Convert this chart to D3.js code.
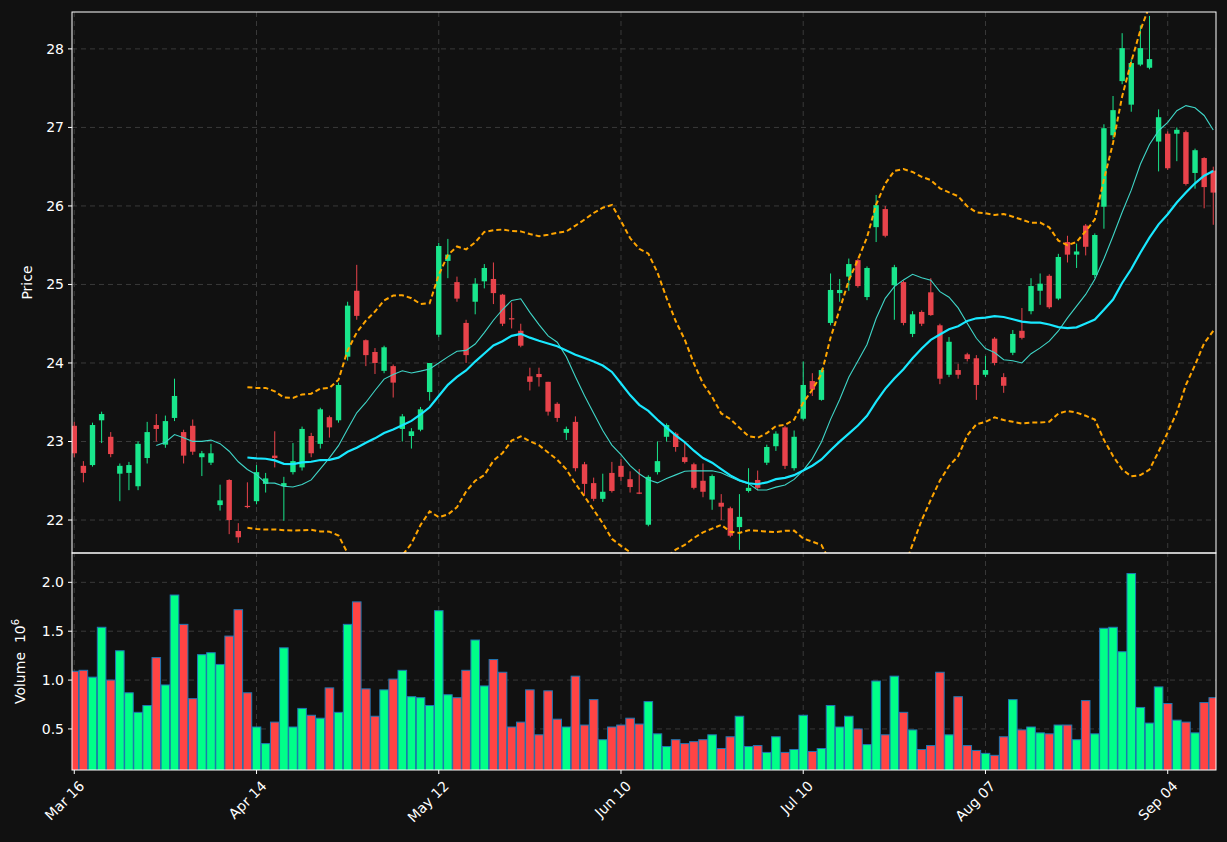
<!DOCTYPE html>
<html><head><meta charset="utf-8">
<script src="https://cdn.jsdelivr.net/npm/d3@7"></script>
<style>body{margin:0;background:#111111;}svg{display:block;}text{font-family:"DejaVu Sans",sans-serif;}</style>
</head><body><svg id="c" width="1227" height="842"></svg>
<script>
const opens=[23.20,22.69,22.70,23.27,23.06,22.59,22.60,22.43,22.79,23.21,22.96,23.30,23.12,23.20,22.80,22.73,22.19,22.51,21.86,22.18,
22.24,22.46,22.82,22.43,22.61,22.67,23.07,22.97,23.31,23.27,24.08,24.92,24.29,24.14,23.90,23.96,23.16,23.07,23.15,23.63,
24.36,25.30,25.03,24.51,24.78,25.04,25.07,24.87,24.57,24.41,23.83,23.86,23.76,23.48,23.11,23.25,22.71,22.47,22.27,22.60,
22.69,22.52,22.35,21.94,22.61,23.06,23.10,22.80,22.71,22.50,22.26,22.22,22.15,21.91,22.37,22.51,22.73,22.94,23.18,22.66,
23.29,23.77,23.53,24.51,24.89,25.10,25.31,24.84,25.73,25.96,24.99,25.03,24.37,24.65,24.90,24.48,23.85,23.91,24.11,24.06,
23.85,24.31,23.82,24.13,24.41,24.66,24.92,25.11,24.82,25.54,25.38,25.75,25.12,25.99,26.90,27.59,27.29,27.80,27.76,26.82,
26.92,26.92,26.94,26.42,26.61,26.45];
const highs=[23.25,22.75,23.24,23.38,23.12,22.72,22.74,23.00,23.25,23.35,23.33,23.80,23.15,23.28,22.88,22.97,22.45,22.52,21.96,22.48,
22.70,22.60,23.13,22.55,22.98,23.19,23.11,23.43,23.33,23.75,24.78,25.25,24.30,24.19,24.22,23.98,23.35,23.17,23.44,24.00,
25.53,25.58,25.10,24.55,25.08,25.26,25.28,24.88,24.77,24.50,23.94,23.94,23.76,23.50,23.19,23.32,22.74,22.54,22.59,22.74,
22.78,22.62,22.65,22.57,23.00,23.23,23.12,22.99,22.73,22.72,22.58,22.33,22.17,22.33,22.66,22.63,22.96,23.13,23.20,23.14,
24.02,23.87,23.93,25.14,25.07,25.33,25.33,25.23,26.14,26.00,25.25,25.05,24.66,24.67,25.08,24.50,24.33,23.99,24.13,24.10,
24.09,24.33,23.87,24.42,24.70,25.08,25.14,25.13,25.39,25.62,25.52,25.77,25.65,27.04,27.40,28.20,27.87,28.30,28.42,27.23,
26.95,27.00,26.96,26.73,26.62,26.50];
const lows=[22.80,22.48,22.68,22.98,22.80,22.24,22.38,22.38,22.72,23.00,22.92,23.26,22.72,22.83,22.56,22.70,22.12,21.82,21.71,22.15,
22.20,22.35,22.67,21.99,22.58,22.63,22.80,22.91,23.05,23.24,24.03,24.55,23.96,23.86,23.87,23.56,23.00,22.91,23.13,23.52,
24.33,25.08,24.78,24.00,24.62,24.95,24.75,24.47,24.44,24.20,23.65,23.70,23.33,23.25,23.02,22.62,22.32,22.24,22.23,22.35,
22.50,22.35,22.33,21.92,22.58,23.00,22.87,22.72,22.39,22.29,22.13,22.00,21.78,21.62,22.35,22.38,22.70,22.88,22.65,22.63,
23.27,23.58,23.52,24.48,24.78,24.92,24.96,24.80,25.54,25.60,24.55,24.48,24.33,24.47,24.60,23.73,23.82,23.80,24.02,23.53,
23.82,23.97,23.62,24.10,24.30,24.62,24.74,24.69,24.80,25.28,25.21,25.37,25.08,25.71,26.85,27.55,27.20,27.78,27.74,26.44,
26.46,26.57,26.26,26.22,25.97,25.76];
const closes=[22.85,22.60,23.21,23.35,22.84,22.69,22.70,22.97,23.12,23.16,23.26,23.58,22.82,22.87,22.85,22.85,22.25,22.00,21.78,22.17,
22.61,22.53,22.79,22.47,22.75,23.16,22.85,23.41,23.18,23.72,24.73,24.60,24.10,24.00,24.20,23.75,23.32,23.13,23.41,24.00,
25.49,25.38,24.82,24.10,25.01,25.21,24.89,24.50,24.56,24.22,23.76,23.82,23.38,23.30,23.16,22.66,22.46,22.27,22.36,22.37,
22.55,22.42,22.34,22.55,22.75,23.21,22.93,22.74,22.41,22.36,22.56,22.17,21.80,22.04,22.41,22.41,22.93,23.10,22.69,23.06,
23.72,23.66,23.91,24.93,24.93,25.26,24.98,25.21,26.01,25.62,25.22,24.51,24.62,24.50,24.61,23.80,24.27,23.85,24.05,23.72,
23.91,24.00,23.71,24.37,24.32,24.98,25.01,24.71,25.35,25.38,25.42,25.48,25.63,26.99,27.22,28.01,27.82,28.01,27.87,27.13,
26.48,26.97,26.28,26.71,26.24,26.17];
const volumes=[1.09,1.10,1.03,1.54,1.00,1.30,0.87,0.67,0.74,1.23,0.95,1.87,1.57,0.81,1.26,1.28,1.16,1.45,1.72,0.87,
0.52,0.35,0.57,1.33,0.52,0.71,0.64,0.61,0.92,0.67,1.57,1.80,0.91,0.63,0.90,1.01,1.10,0.83,0.82,0.74,
1.71,0.85,0.82,1.10,1.41,0.94,1.21,1.08,0.52,0.57,0.90,0.44,0.89,0.60,0.52,1.04,0.54,0.80,0.39,0.52,
0.54,0.61,0.55,0.78,0.45,0.32,0.39,0.35,0.37,0.39,0.44,0.30,0.42,0.63,0.32,0.33,0.26,0.42,0.26,0.29,
0.64,0.27,0.30,0.74,0.52,0.63,0.50,0.34,0.99,0.44,1.04,0.67,0.49,0.29,0.33,1.08,0.44,0.83,0.33,0.28,
0.25,0.23,0.42,0.80,0.49,0.52,0.46,0.45,0.54,0.54,0.39,0.79,0.45,1.53,1.54,1.29,2.09,0.72,0.56,0.93,
0.76,0.59,0.57,0.46,0.77,0.82];
const tickIdx=[0,20,40,60,80,100,120];
const tickLabels=["Mar 16","Apr 14","May 12","Jun 10","Jul 10","Aug 07","Sep 04"];
const priceTicks=[22,23,24,25,26,27,28];
const volTicks=[0.5,1.0,1.5,2.0];

const svg=d3.select("#c");
const L=72,R=1216,T=12,M=553,B=770;
const x=d3.scaleLinear().domain([-0.25,125.3]).range([L,R]);
const y=d3.scaleLinear().domain([21.58,28.47]).range([M,T]);
const yv=d3.scaleLinear().domain([0.08,2.3]).range([B,M]);
svg.append("rect").attr("width",1227).attr("height",842).attr("fill","#111111");
const defs=svg.append("defs");
defs.append("clipPath").attr("id","cp").append("rect").attr("x",L).attr("y",T).attr("width",R-L).attr("height",M-T);
defs.append("clipPath").attr("id","cv").append("rect").attr("x",L).attr("y",M).attr("width",R-L).attr("height",B-M);
const grid="#3a3a3a";
const gp=svg.append("g");
priceTicks.forEach(t=>gp.append("line").attr("x1",L).attr("x2",R).attr("y1",y(t)).attr("y2",y(t)).attr("stroke",grid).attr("stroke-dasharray","5,4"));
volTicks.forEach(t=>gp.append("line").attr("x1",L).attr("x2",R).attr("y1",yv(t)).attr("y2",yv(t)).attr("stroke",grid).attr("stroke-dasharray","5,4"));
tickIdx.forEach(i=>{gp.append("line").attr("x1",x(i)).attr("x2",x(i)).attr("y1",T).attr("y2",B).attr("stroke",grid).attr("stroke-dasharray","5,4");});
const n=closes.length;
function sma(p){return closes.map((c,i)=>i<p-1?null:d3.mean(closes.slice(i-p+1,i+1)));}
const ma10=sma(10), ma20=sma(20);
const sd20=closes.map((c,i)=>i<19?null:d3.deviation(closes.slice(i-19,i+1))*Math.sqrt(19/20));
const up=ma20.map((m,i)=>m==null?null:m+2*sd20[i]);
const lo=ma20.map((m,i)=>m==null?null:m-2*sd20[i]);
const line=d3.line().defined(d=>d[1]!=null).x(d=>x(d[0])).y(d=>y(d[1]));
const pg=svg.append("g").attr("clip-path","url(#cp)");
const upC="#19e68c",dnC="#e8434b";
closes.forEach((c,i)=>{
  const o=opens[i],col=c>=o?upC:dnC;
  pg.append("line").attr("x1",x(i)).attr("x2",x(i)).attr("y1",y(highs[i])).attr("y2",y(lows[i])).attr("stroke",col).attr("stroke-width",1);
  const top=y(Math.max(o,c)),bot=y(Math.min(o,c));
  pg.append("rect").attr("x",x(i)-2.7).attr("width",5.4).attr("y",top).attr("height",Math.max(1.2,bot-top)).attr("fill",col);
});
pg.append("path").attr("d",line(ma10.map((v,i)=>[i,v]))).attr("fill","none").attr("stroke","#3fd6c8").attr("stroke-width",1.1);
pg.append("path").attr("d",line(ma20.map((v,i)=>[i,v]))).attr("fill","none").attr("stroke","#19e8ff").attr("stroke-width",2.2);
[up,lo].forEach(a=>pg.append("path").attr("d",line(a.map((v,i)=>[i,v]))).attr("fill","none").attr("stroke","#ffa500").attr("stroke-width",2).attr("stroke-dasharray","5,3"));
const vg=svg.append("g").attr("clip-path","url(#cv)");
volumes.forEach((v,i)=>{
  const col=closes[i]>=opens[i]?"#00ff88":"#ff4444";
  vg.append("rect").attr("x",x(i)-4.3).attr("width",8.6).attr("y",yv(v)).attr("height",yv(0.08)-yv(v)+2)
    .attr("fill",col).attr("stroke","#1f77b4").attr("stroke-width",1);
});
const sp=svg.append("g").attr("fill","none").attr("stroke","#ffffff").attr("stroke-width",1);
sp.append("rect").attr("x",L).attr("y",T).attr("width",R-L).attr("height",M-T);
sp.append("rect").attr("x",L).attr("y",M).attr("width",R-L).attr("height",B-M);
const ax=svg.append("g").attr("fill","#ffffff").attr("font-size",14);
priceTicks.forEach(t=>{ax.append("line").attr("x1",L-4).attr("x2",L).attr("y1",y(t)).attr("y2",y(t)).attr("stroke","#fff");
  ax.append("text").attr("x",L-8).attr("y",y(t)).attr("dy","0.35em").attr("text-anchor","end").text(t);});
volTicks.forEach(t=>{ax.append("line").attr("x1",L-4).attr("x2",L).attr("y1",yv(t)).attr("y2",yv(t)).attr("stroke","#fff");
  ax.append("text").attr("x",L-8).attr("y",yv(t)).attr("dy","0.35em").attr("text-anchor","end").text(t.toFixed(1));});
tickIdx.forEach((i,k)=>{ax.append("line").attr("x1",x(i)).attr("x2",x(i)).attr("y1",B).attr("y2",B+4).attr("stroke","#fff");
  ax.append("text").attr("transform",`translate(${x(i)+4},${B+10}) rotate(-45)`).attr("text-anchor","end").attr("dy","0.7em").text(tickLabels[k]);});
ax.append("text").attr("transform",`translate(32,${(T+M)/2}) rotate(-90)`).attr("text-anchor","middle").attr("font-size",14).text("Price");
const vl=ax.append("text").attr("transform",`translate(25,${(M+B)/2}) rotate(-90)`).attr("text-anchor","middle").attr("font-size",14).attr("xml:space","preserve");
vl.append("tspan").text("Volume  10");
vl.append("tspan").attr("dy",-6).attr("font-size",10).text("6");
</script></body></html>
